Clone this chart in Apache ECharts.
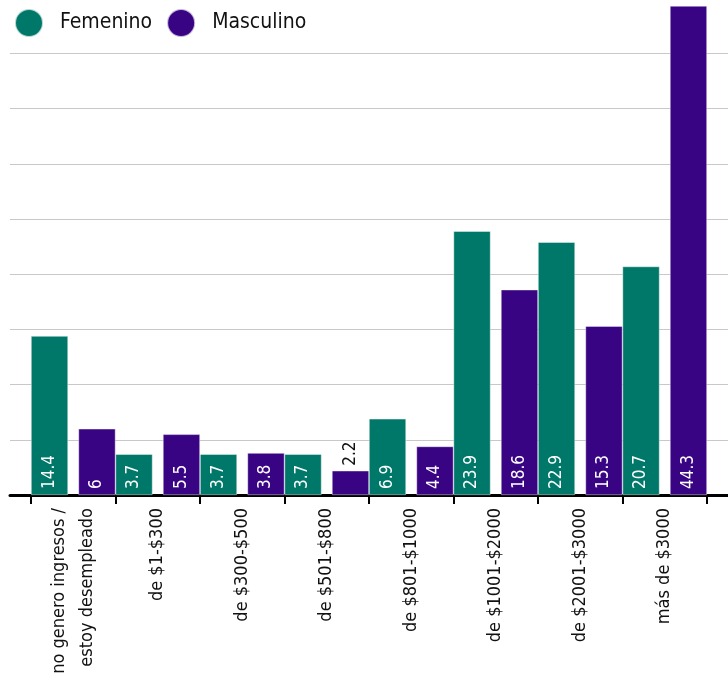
<!DOCTYPE html>
<html><head><meta charset="utf-8">
<script src="https://cdn.jsdelivr.net/npm/echarts@6/dist/echarts.min.js"></script>
<style>html,body{margin:0;padding:0;background:#fff}#c{width:728px;height:673px}</style>
</head><body><div id="c"></div>
<script>
const categories = ["no genero ingresos /\nestoy desempleado","de $1-$300","de $300-$500","de $501-$800","de $801-$1000","de $1001-$2000","de $2001-$3000","más de $3000"];
const femenino = [14.4, 3.7, 3.7, 3.7, 6.9, 23.9, 22.9, 20.7];
const masculino = [6, 5.5, 3.8, 2.2, 4.4, 18.6, 15.3, 44.3];
const seriesNames = ["Femenino","Masculino"];
const colors = ["#007869","#390483"];
const FONT = "'DejaVu Sans Condensed','Liberation Sans Narrow',sans-serif";

function mk(vals){
  return vals.map(v => {
    if (v < 3) {
      return {value: v, label: {position: 'top', color: '#111', align: 'left', verticalAlign: 'middle', distance: 5}};
    }
    return v;
  });
}
const baseLabel = {show: true, position: 'insideBottom', rotate: 90, align: 'left', verticalAlign: 'middle', distance: 6, color: '#fff', fontSize: 17, fontFamily: FONT};

const chart = echarts.init(document.getElementById('c'), null, {renderer: 'canvas'});
chart.setOption({
  animation: false,
  legend: {left: 9, top: 3, itemWidth: 28, itemHeight: 28, itemGap: 14, icon: 'circle',
    textStyle: {fontSize: 21, fontFamily: FONT, color: '#111', padding: [0,0,0,12]}, data: seriesNames},
  grid: [
    {left: 10, right: 0, top: -57, bottom: 178, outerBoundsMode: 'none', containLabel: false},
    {left: 31, right: 21, top: -57, bottom: 178, outerBoundsMode: 'none', containLabel: false}
  ],
  xAxis: [
    {type: 'value', gridIndex: 0, min: 0, max: 1, axisLabel: {show: false}, splitLine: {show: false}, axisTick: {show: false},
     axisLine: {show: true, lineStyle: {color: '#000', width: 3}}},
    {type: 'category', gridIndex: 1, data: categories, axisLine: {show: false},
     axisTick: {show: true, length: 9, lineStyle: {color: '#000', width: 2}},
     axisLabel: {rotate: 90, fontSize: 18, fontFamily: FONT, color: '#111', margin: 13, lineHeight: 28, interval: 0}}
  ],
  yAxis: [
    {type: 'value', gridIndex: 0, min: 0, max: 50, interval: 5, axisLabel: {show: false}, axisLine: {show: false}, axisTick: {show: false},
     splitLine: {show: true, lineStyle: {color: '#c8c8c8', width: 1}}},
    {type: 'value', gridIndex: 1, min: 0, max: 50, interval: 5, show: false}
  ],
  series: [
    {name: seriesNames[0], type: 'bar', xAxisIndex: 1, yAxisIndex: 1, data: mk(femenino),
     itemStyle: {color: colors[0], borderColor: 'rgba(255,255,255,0.7)', borderWidth: 0.6},
     barCategoryGap: '0%', barGap: '28%', label: baseLabel},
    {name: seriesNames[1], type: 'bar', xAxisIndex: 1, yAxisIndex: 1, data: mk(masculino),
     itemStyle: {color: colors[1], borderColor: 'rgba(255,255,255,0.7)', borderWidth: 0.6},
     barCategoryGap: '0%', barGap: '28%', label: baseLabel}
  ]
});
</script></body></html>
